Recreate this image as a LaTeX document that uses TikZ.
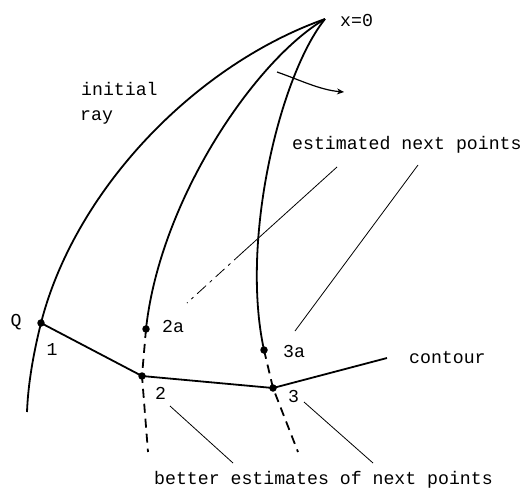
\documentclass[tikz,border=0pt]{standalone}
\usepackage{fontspec}
\newfontfamily\tw{Liberation Mono}
\usetikzlibrary{arrows.meta}
\begin{document}
\begin{tikzpicture}[x=1pt,y=-1pt,
  ray/.style={line width=1.8pt},
  estray/.style={line width=1.8pt, dash pattern=on 9pt off 6pt},
  leader/.style={line width=0.8pt},
  dot/.style={circle,fill=black,inner sep=0pt,minimum size=7.5pt},
  lbl/.style={font=\tw\fontsize{18.2}{21}\selectfont, inner sep=0pt}]
\useasboundingbox (0,0) rectangle (529,493);
% points
\coordinate (O) at (325,19);
\node[dot] (Q) at (41,323) {};
\node[dot] (P2a) at (146,329) {};
\node[dot] (P3a) at (264,350) {};
\node[dot] (P2) at (142,376) {};
\node[dot] (P3) at (273,388) {};
\coordinate (E1) at (27,412);
\coordinate (E2) at (148,452);
\coordinate (E3) at (298,452);
\coordinate (C) at (387,358);
% rays
\draw[ray] (O) .. controls (195,65) and (75,190) .. (Q.center)
  .. controls (33,355) and (28,385) .. (E1);
\draw[ray] (O) .. controls (255,60) and (160,200) .. (P2a.center);
\draw[ray] (O) .. controls (280,75) and (240,240) .. (P3a.center);
% estimated continuations
\draw[estray] (P2a.center) -- (P2.center) -- (E2);
\draw[estray] (P3a.center) -- (P3.center) -- (E3);
% contour
\draw[ray] (Q.center) -- (P2.center) -- (P3.center) -- (C);
% arrow
\coordinate (A1) at (277,72);
\coordinate (A2) at (344,92);
\draw[line width=1.2pt,-{Stealth[length=7pt,width=6pt]}] (A1) .. controls (300,80) and (320,90) .. (A2);
% labels
\node[lbl,anchor=west] (x0) at (340,20) {x=0};
\node[lbl,anchor=west] (ini) at (81,89) {initial};
\node[lbl,anchor=west] (ray) at (80,117) {ray};
\node[lbl,anchor=west] (est) at (292,145) {estimated next points};
\node[lbl] (lQ) at (16,322) {Q};
\node[lbl] (l1) at (52,349) {1};
\node[lbl,anchor=west] (l2a) at (162,326) {2a};
\node[lbl,anchor=west] (l3a) at (283,351) {3a};
\node[lbl,anchor=west] (l2) at (155,393) {2};
\node[lbl,anchor=west] (l3) at (288,396) {3};
\node[lbl,anchor=west] (cont) at (409,358) {contour};
\node[lbl,anchor=west] (bet) at (154,480) {better estimates of next points};
% leaders
\coordinate (L1a) at (337,167);
\coordinate (L1m) at (243,252);
\coordinate (L1b) at (187,303);
\draw[leader] (L1a) -- (L1m);
\draw[leader, dash pattern=on 12pt off 5pt on 3pt off 5pt] (L1m) -- (L1b);
\coordinate (L2a) at (418,165);
\coordinate (L2b) at (295,331);
\draw[leader] (L2a) -- (L2b);
\coordinate (L3a) at (170,406);
\coordinate (L3b) at (233,463);
\draw[leader] (L3a) -- (L3b);
\coordinate (L4a) at (304,402);
\coordinate (L4b) at (373,463);
\draw[leader] (L4a) -- (L4b);
\end{tikzpicture}
\end{document}
